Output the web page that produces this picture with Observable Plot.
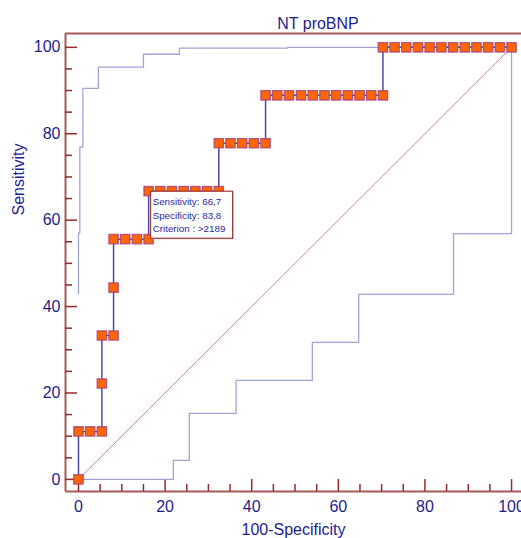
<!DOCTYPE html>
<html><head><meta charset="utf-8">
<script src="https://cdn.jsdelivr.net/npm/d3@7"></script>
<script src="https://cdn.jsdelivr.net/npm/@observablehq/plot@0.6"></script>
<style>body{margin:0;background:#fff}</style>
</head><body><div id="chart"></div>
<script>
const title = "NT proBNP";
const xLabel = "100-Specificity";
const yLabel = "Sensitivity";

// ROC criterion points (100-Specificity, Sensitivity)
const rocFpr  = [0, 0, 2.7, 5.4, 5.4, 5.4, 8.1, 8.1, 8.1, 10.8, 13.5, 16.2, 16.2, 18.9, 21.6, 24.3, 27.0, 29.7, 32.4, 32.4, 35.1, 37.8, 40.5, 43.2, 43.2, 45.9, 48.6, 51.4, 54.1, 56.8, 59.5, 62.2, 64.9, 67.6, 70.3, 70.3, 73.0, 75.7, 78.4, 81.1, 83.8, 86.5, 89.2, 91.9, 94.6, 97.3, 100];
const rocSens = [0, 11.1, 11.1, 11.1, 22.2, 33.3, 33.3, 44.4, 55.6, 55.6, 55.6, 55.6, 66.7, 66.7, 66.7, 66.7, 66.7, 66.7, 66.7, 77.8, 77.8, 77.8, 77.8, 77.8, 88.9, 88.9, 88.9, 88.9, 88.9, 88.9, 88.9, 88.9, 88.9, 88.9, 88.9, 100, 100, 100, 100, 100, 100, 100, 100, 100, 100, 100, 100];

// Upper confidence bound
const upperFpr  = [0, 0, 0.3, 0.3, 1.0, 1.0, 4.6, 4.6, 15.0, 15.0, 23.3, 23.3, 48.3, 48.3, 100];
const upperSens = [43.0, 57.0, 57.0, 76.9, 76.9, 90.5, 90.5, 95.4, 95.4, 98.4, 98.4, 99.8, 99.8, 100, 100];

// Lower confidence bound
const lowerFpr  = [0, 21.9, 21.9, 25.6, 25.6, 36.4, 36.4, 54.0, 54.0, 64.7, 64.7, 86.6, 86.6, 100, 100];
const lowerSens = [0, 0, 4.4, 4.4, 15.3, 15.3, 22.9, 22.9, 31.7, 31.7, 42.8, 42.8, 56.9, 56.9, 100];

const diagFpr = [0, 100];
const diagSens = [0, 100];

const xTicks = [0, 20, 40, 60, 80, 100];
const yTicks = [0, 20, 40, 60, 80, 100];
const minorTicks = [5, 10, 15, 25, 30, 35, 45, 50, 55, 65, 70, 75, 85, 90, 95];

const tipPoint = {fpr: 16.2, sens: 66.7};
const tipLines = ["Sensitivity: 66,7", "Specificity: 83,8", "Criterion : >2189"];

const xDomain = [-3.0, 102.3];
const yDomain = [-2.8, 103.2];

const W = 521, H = 538, mL = 65, mR = 0, mT = 33, mB = 47;
const frameW = W - mL - mR, frameH = H - mT - mB;
const navy = "#1e1e8c";
const axisRed = "#a65a5a";
const tickRed = "#952a2a";

const roc = rocFpr.map((x, i) => ({x, y: rocSens[i]}));
const upper = upperFpr.map((x, i) => ({x, y: upperSens[i]}));
const lower = lowerFpr.map((x, i) => ({x, y: lowerSens[i]}));
const diag = diagFpr.map((x, i) => ({x, y: diagSens[i]}));

const tooltip = (index, scales) => {
  const px = scales.x(tipPoint.fpr), py = scales.y(tipPoint.sens);
  const g = d3.create("svg:g");
  g.append("rect").attr("x", px + 3.5).attr("y", py + 1.5).attr("width", 82).attr("height", 47)
    .attr("fill", "#d8b8b8");
  g.append("rect").attr("x", px + 2.5).attr("y", py + 0.5).attr("width", 82).attr("height", 47)
    .attr("fill", "white").attr("stroke", "#8b2020").attr("stroke-width", 1);
  tipLines.forEach((t, i) => {
    g.append("text").attr("x", px + 4.5).attr("y", py + 11 + i * 13.6)
      .attr("dy", "0.35em")
      .attr("text-anchor", "start")
      .attr("font-size", "9.8px").attr("fill", "#2a2a9a")
      .text(t);
  });
  return g.node();
};

const chart = Plot.plot({
  width: W, height: H,
  marginLeft: mL, marginRight: mR, marginTop: mT, marginBottom: mB,
  x: {domain: xDomain},
  y: {domain: yDomain},
  style: {fontFamily: "'Liberation Sans', Arial, sans-serif", fontSize: "16px", color: navy, background: "white", overflow: "visible"},
  marks: [
    // frame lines
    Plot.ruleX([xDomain[0]], {stroke: axisRed, strokeWidth: 2}),
    Plot.ruleY([yDomain[0]], {stroke: axisRed, strokeWidth: 2}),
    Plot.ruleY([yDomain[1]], {stroke: axisRed, strokeWidth: 2}),
    // inward ticks
    Plot.ruleX(xTicks, {x: d => d, insetTop: frameH - 12, stroke: tickRed, strokeWidth: 1.5}),
    Plot.ruleX(minorTicks, {x: d => d, insetTop: frameH - 7, stroke: tickRed, strokeWidth: 1.5}),
    Plot.ruleY(yTicks, {y: d => d, insetRight: frameW - 12, stroke: tickRed, strokeWidth: 1.5}),
    Plot.ruleY(minorTicks, {y: d => d, insetRight: frameW - 7, stroke: tickRed, strokeWidth: 1.5}),
    Plot.axisX(xTicks, {tickSize: 0, tickPadding: 9, label: null, fill: navy}),
    Plot.axisY(yTicks, {tickSize: 0, tickPadding: 5, label: null, fill: navy}),
    Plot.text([title], {frameAnchor: "top", dx: 24.5, dy: -16, fill: navy}),
    Plot.text([xLabel], {frameAnchor: "bottom", dy: 43, fill: navy}),
    Plot.text([yLabel], {frameAnchor: "left", rotate: -90, dx: -46.5, dy: -47, fill: navy}),
    // diagonal
    Plot.line(diag, {x: "x", y: "y", stroke: "#c98a8a", strokeWidth: 1}),
    // confidence bands
    Plot.line(upper, {x: "x", y: "y", stroke: "#a3a3d6", strokeWidth: 1.3}),
    Plot.line(lower, {x: "x", y: "y", stroke: "#a3a3d6", strokeWidth: 1.3}),
    // ROC
    Plot.line(roc, {x: "x", y: "y", stroke: "#4a4aa8", strokeWidth: 1.5}),
    Plot.dot(roc, {x: "x", y: "y", symbol: "square", r: 5.3, fill: "#ff6600", stroke: "#a3407f", strokeWidth: 1.3, strokeOpacity: 0.8}),
    tooltip
  ]
});
document.getElementById("chart").appendChild(chart);
</script>
</body></html>
